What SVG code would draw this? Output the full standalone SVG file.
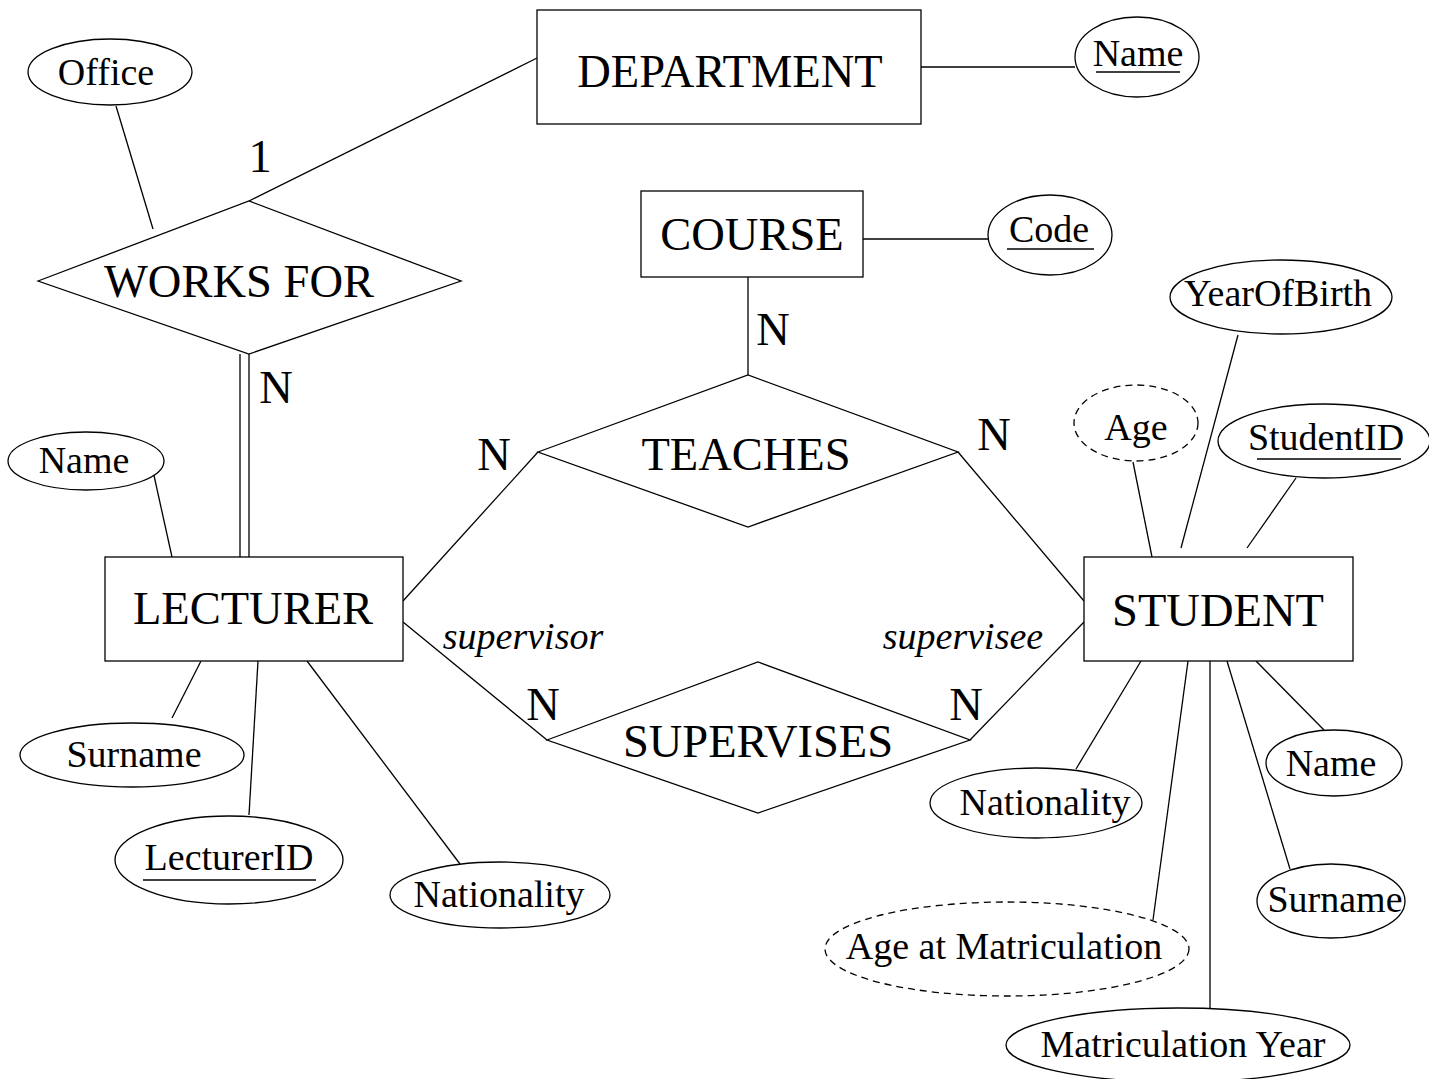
<svg xmlns="http://www.w3.org/2000/svg" width="1429" height="1079" viewBox="0 0 1429 1079">
<style>
.s{fill:#fff;stroke:#000;stroke-width:1.3}
.d{fill:#fff;stroke:#000;stroke-width:1.3;stroke-dasharray:7 5}
.l{stroke:#000;stroke-width:1.3;fill:none}
.L{font-family:"Liberation Serif","Times New Roman",serif;font-size:46.5px;text-anchor:middle;fill:#000}
.a{font-family:"Liberation Serif","Times New Roman",serif;font-size:38px;text-anchor:middle;fill:#000}
.i{font-family:"Liberation Serif","Times New Roman",serif;font-size:38px;font-style:italic;text-anchor:middle;fill:#000}
.u{stroke:#000;stroke-width:1.5}
</style>
<rect width="1429" height="1079" fill="#fff"/>
<g id="connectors">
<line class="l" x1="249" y1="201" x2="537" y2="58"/>
<line class="l" x1="116" y1="106" x2="153" y2="229"/>
<line class="l" x1="240" y1="354" x2="240" y2="557"/>
<line class="l" x1="249" y1="354" x2="249" y2="557"/>
<line class="l" x1="921" y1="67" x2="1075" y2="67"/>
<line class="l" x1="863" y1="239" x2="989" y2="239"/>
<line class="l" x1="748" y1="277" x2="748" y2="375"/>
<line class="l" x1="403" y1="601" x2="538" y2="452"/>
<line class="l" x1="958" y1="452" x2="1084" y2="601"/>
<line class="l" x1="403" y1="622" x2="547" y2="740"/>
<line class="l" x1="1084" y1="622" x2="970" y2="740"/>
<line class="l" x1="153" y1="471" x2="172" y2="557"/>
<line class="l" x1="201" y1="661" x2="172" y2="718"/>
<line class="l" x1="258" y1="661" x2="249" y2="815"/>
<line class="l" x1="307" y1="661" x2="460" y2="864"/>
<line class="l" x1="1133" y1="462" x2="1152" y2="557"/>
<line class="l" x1="1238" y1="335" x2="1181" y2="548"/>
<line class="l" x1="1296" y1="478" x2="1247" y2="548"/>
<line class="l" x1="1141" y1="661" x2="1076" y2="769"/>
<line class="l" x1="1256" y1="661" x2="1324" y2="730"/>
<line class="l" x1="1227" y1="661" x2="1290" y2="869"/>
<line class="l" x1="1188" y1="661" x2="1153" y2="920"/>
<line class="l" x1="1210" y1="661" x2="1210" y2="1008"/>
<text class="L" x="260" y="172">1</text>
<text class="L" x="276" y="403">N</text>
<text class="L" x="773" y="345">N</text>
<text class="L" x="494" y="470">N</text>
<text class="L" x="994" y="450">N</text>
<text class="L" x="543" y="720">N</text>
<text class="L" x="966" y="720">N</text>
<text class="i" x="523" y="649">supervisor</text>
<text class="i" x="963" y="649">supervisee</text>
</g>
<g id="office"><ellipse class="s" cx="110" cy="72" rx="82" ry="33"/><text class="a" x="106" y="85">Office</text></g>
<g id="department"><rect class="s" x="537" y="10" width="384" height="114"/><text class="L" x="730" y="87">DEPARTMENT</text></g>
<g id="dept-name"><ellipse class="s" cx="1137" cy="57" rx="62" ry="40"/><text class="a" x="1138" y="66">Name</text><line class="u" x1="1096" y1="72" x2="1180" y2="72"/></g>
<g id="works-for"><polygon class="s" points="38,281 249,201 461,281 249,354"/><text class="L" x="239" y="297">WORKS FOR</text></g>
<g id="course"><rect class="s" x="641" y="191" width="222" height="86"/><text class="L" x="752" y="250">COURSE</text></g>
<g id="code"><ellipse class="s" cx="1050" cy="235" rx="62" ry="40"/><text class="a" x="1049" y="242">Code</text><line class="u" x1="1007" y1="249" x2="1094" y2="249"/></g>
<g id="teaches"><polygon class="s" points="538,452 748,375 958,452 748,527"/><text class="L" x="746" y="470">TEACHES</text></g>
<g id="yearofbirth"><ellipse class="s" cx="1281" cy="297" rx="111" ry="37"/><text class="a" x="1278" y="306">YearOfBirth</text></g>
<g id="age"><ellipse class="d" cx="1136" cy="423" rx="62" ry="38"/><text class="a" x="1136" y="440">Age</text></g>
<g id="studentid"><ellipse class="s" cx="1324" cy="441" rx="106" ry="37"/><text class="a" x="1326" y="450">StudentID</text><line class="u" x1="1257" y1="459" x2="1401" y2="459"/></g>
<g id="lecturer"><rect class="s" x="105" y="557" width="298" height="104"/><text class="L" x="253" y="624">LECTURER</text></g>
<g id="student"><rect class="s" x="1084" y="557" width="269" height="104"/><text class="L" x="1218" y="626">STUDENT</text></g>
<g id="supervises"><polygon class="s" points="547,740 758,662 970,740 758,813"/><text class="L" x="758" y="757">SUPERVISES</text></g>
<g id="lect-name"><ellipse class="s" cx="86" cy="461" rx="78" ry="29"/><text class="a" x="84" y="473">Name</text></g>
<g id="lect-surname"><ellipse class="s" cx="132" cy="755" rx="112" ry="32"/><text class="a" x="134" y="767">Surname</text></g>
<g id="lecturerid"><ellipse class="s" cx="229" cy="860" rx="114" ry="44"/><text class="a" x="229" y="870">LecturerID</text><line class="u" x1="143" y1="880" x2="316" y2="880"/></g>
<g id="lect-nationality"><ellipse class="s" cx="500" cy="895" rx="110" ry="33"/><text class="a" x="499" y="907">Nationality</text></g>
<g id="stud-nationality"><ellipse class="s" cx="1036" cy="803" rx="106" ry="35"/><text class="a" x="1045" y="815">Nationality</text></g>
<g id="stud-name"><ellipse class="s" cx="1334" cy="763" rx="68" ry="33"/><text class="a" x="1331" y="776">Name</text></g>
<g id="stud-surname"><ellipse class="s" cx="1331" cy="901" rx="74" ry="37"/><text class="a" x="1335" y="912">Surname</text></g>
<g id="age-at-matric"><ellipse class="d" cx="1007" cy="949" rx="182" ry="47"/><text class="a" x="1004" y="959">Age at Matriculation</text></g>
<g id="matric-year"><ellipse class="s" cx="1178" cy="1045" rx="172" ry="37"/><text class="a" x="1183" y="1057">Matriculation Year</text></g>
</svg>
